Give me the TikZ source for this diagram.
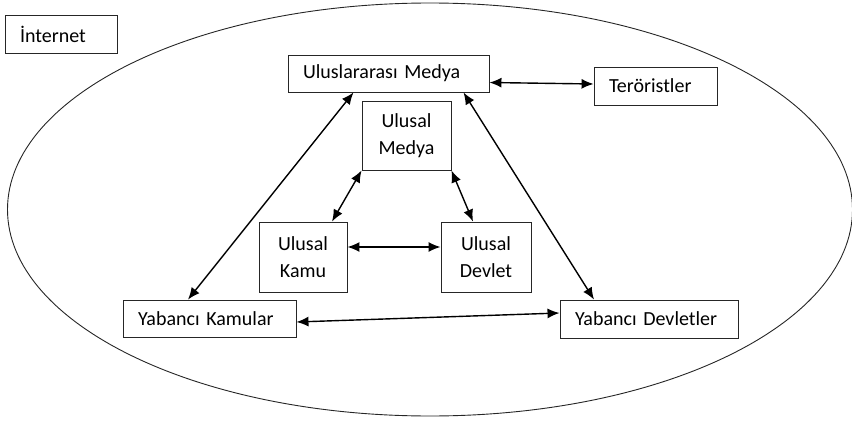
\documentclass[tikz,border=0pt]{standalone}
\usepackage{fontspec}
\setmainfont{Carlito}
\usetikzlibrary{arrows.meta}
\tikzset{
    kutu/.style={draw=black!85, line width=0.9pt, minimum height=37pt, inner xsep=15pt, inner ysep=0pt, align=left, text width=#1},
    ikisatir/.style={draw=black!85, line width=0.9pt, minimum width=#1, minimum height=70pt, inner sep=0pt, align=center},
    okcift/.style={{Latex[length=12pt,width=10pt]}-{Latex[length=12pt,width=10pt]}, line width=1.4pt},
    every node/.style={font=\fontsize{20}{27}\selectfont}
}
\begin{document}
\begin{tikzpicture}[x=1pt, y=-1pt]
        \useasboundingbox (0, 0) rectangle (852, 423);
        \draw[line width=0.9pt, black!85] (430, 209.5) ellipse [x radius=422.5pt, y radius=206.5pt];

        \node[kutu=82pt, minimum height=38pt] (internet) at(61, 34){İnternet};
        \node[kutu=171pt] (uluslararasi) at(388.5, 73.5){Uluslararası Medya};
        \node[kutu=93pt, minimum height=38pt] (teroristler) at(655.5, 86){Teröristler};
        \node[ikisatir=89pt, minimum height=69pt] (medya) at(406.5, 135.5){Ulusal\\Medya};
        \node[ikisatir=88pt] (kamu) at(303, 257){Ulusal\\Kamu};
        \node[ikisatir=90pt] (devlet) at(486, 257){Ulusal\\Devlet};
        \node[kutu=143pt] (ykamular) at(209.5, 318.5){Yabancı Kamular};
        \node[kutu=148pt, minimum height=38pt] (ydevletler) at(649, 319){Yabancı Devletler};

        \draw[okcift] ([yshift=-9pt]uluslararasi.east) to ([yshift=2pt]teroristler.west);
        \draw[okcift] ([xshift=-35pt]uluslararasi.south) to ([xshift=-21.5pt]ykamular.north);
        \draw[okcift] ([xshift=75pt]uluslararasi.south) to ([xshift=-55pt]ydevletler.north);
        \draw[okcift] (medya.south west) to ([xshift=29pt]kamu.north);
        \draw[okcift] (medya.south east) to ([xshift=-13pt]devlet.north);
        \draw[okcift] ([yshift=10pt]kamu.east) to ([yshift=10pt]devlet.west);
        \draw[okcift] ([yshift=-3.5pt]ykamular.east) to ([yshift=6pt]ydevletler.west);
\end{tikzpicture}
\end{document}
